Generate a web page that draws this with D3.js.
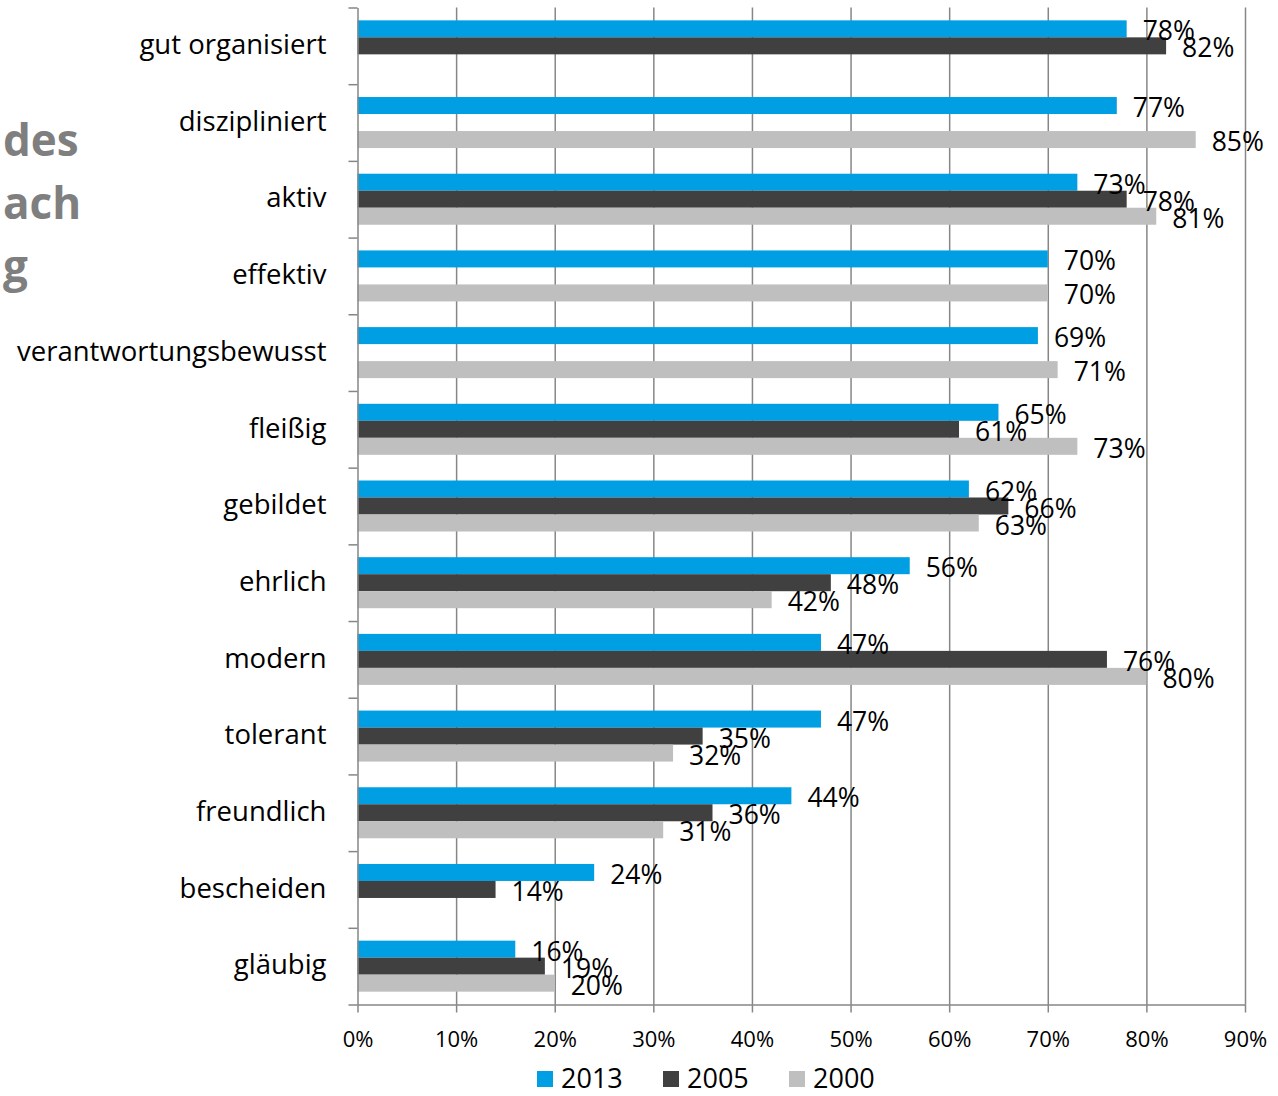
<!DOCTYPE html>
<html>
<head>
<meta charset="utf-8">
<script src="https://cdn.jsdelivr.net/npm/d3@7"></script>
<style>
  body { margin: 0; background: #fff; }
  svg { display: block; font-family: "Open Sans", Lato, sans-serif; }
</style>
</head>
<body>
<svg id="chart" width="1278" height="1096"></svg>
<script>
'use strict';

// categories top to bottom
const categories = ['gut organisiert', 'diszipliniert', 'aktiv', 'effektiv', 'verantwortungsbewusst',
    'fleißig', 'gebildet', 'ehrlich', 'modern', 'tolerant', 'freundlich', 'bescheiden', 'gläubig'];
const seriesNames = ['2013', '2005', '2000'];
const seriesColors = ['#009fe3', '#404040', '#bfbfbf'];

// values in percent, null = no bar
const values2013 = [78, 77, 73, 70, 69, 65, 62, 56, 47, 47, 44, 24, 16];
const values2005 = [82, null, 78, null, null, 61, 66, 48, 76, 35, 36, 14, 19];
const values2000 = [null, 85, 81, 70, 71, 73, 63, 42, 80, 32, 31, null, 20];

const xTicks = [0, 10, 20, 30, 40, 50, 60, 70, 80, 90];
const titleBits = ['des', 'ach', 'g'];

let svg = d3.select('#chart');
let margin = {top: 7.5, left: 357.5, right: 33, bottom: 91.5};
let width = 1278 - margin.left - margin.right;
let height = 1096 - margin.top - margin.bottom;

let seriesValues = [values2013, values2005, values2000];

let x = d3.scaleLinear().domain([0, 90]).range([0, width]);
let y = d3.scaleBand().domain(categories).range([0, height]).padding(0);
let ySub = d3.scaleBand().domain(seriesNames).range([0, y.bandwidth()])
    .paddingInner(0).paddingOuter(0.755);
let yEdges = d3.scaleLinear().domain([0, categories.length]).range([0, height]);

let g = svg.append('g').attr('transform', 'translate(' + margin.left + ',' + margin.top + ')');

// cut-off title on the left
svg.append('g').selectAll('text')
    .data(titleBits)
    .join('text')
    .attr('x', 3)
    .attr('y', (d, i) => 156 + i * 63)
    .attr('font-size', 44)
    .attr('font-weight', 'bold')
    .attr('fill', '#7f7f7f')
    .text(d => d);

// vertical grid lines
g.append('g')
    .attr('class', 'grid')
    .call(d3.axisBottom(x).tickValues(xTicks.slice(1)).tickSize(height).tickFormat(''))
    .call(s => s.select('.domain').remove())
    .call(s => s.selectAll('line').attr('stroke', '#868686').attr('stroke-width', 1.5));

// bars
seriesNames.forEach(function (name, si) {
    let rows = categories.map((c, i) => ({cat: c, v: seriesValues[si][i]})).filter(d => d.v !== null);

    g.append('g').selectAll('rect')
        .data(rows)
        .join('rect')
        .attr('x', 0)
        .attr('y', d => y(d.cat) + ySub(name))
        .attr('width', d => x(d.v))
        .attr('height', ySub.bandwidth())
        .attr('fill', seriesColors[si]);
});

// data labels
seriesNames.forEach(function (name, si) {
    let rows = categories.map((c, i) => ({cat: c, v: seriesValues[si][i]})).filter(d => d.v !== null);

    g.append('g').selectAll('text')
        .data(rows)
        .join('text')
        .attr('x', d => x(d.v) + 16)
        .attr('y', d => y(d.cat) + ySub(name) + ySub.bandwidth() / 2 + 2)
        .attr('dy', '.36em')
        .attr('font-size', 26.5)
        .attr('fill', '#000')
        .text(d => d.v + '%');
});

// x axis
g.append('g')
    .attr('transform', 'translate(0,' + height + ')')
    .call(d3.axisBottom(x).tickValues(xTicks).tickSize(8).tickSizeOuter(0).tickPadding(19)
        .tickFormat(d => d + '%'))
    .call(s => s.select('.domain').attr('stroke', '#868686').attr('stroke-width', 1.5))
    .call(s => s.selectAll('line').attr('stroke', '#868686').attr('stroke-width', 1.5))
    .call(s => s.selectAll('text').attr('font-size', 22).attr('fill', '#000')
        .attr('font-family', '"Open Sans", sans-serif'));

// y axis with ticks between categories
g.append('g')
    .call(d3.axisLeft(yEdges).tickValues(d3.range(categories.length + 1)).tickSize(9).tickSizeOuter(0)
        .tickFormat(''))
    .call(s => s.select('.domain').attr('stroke', '#868686').attr('stroke-width', 1.5))
    .call(s => s.selectAll('line').attr('stroke', '#868686').attr('stroke-width', 1.5));

// category labels
g.append('g').selectAll('text')
    .data(categories)
    .join('text')
    .attr('x', -31)
    .attr('y', d => y(d) + y.bandwidth() / 2)
    .attr('dy', '.3em')
    .attr('text-anchor', 'end')
    .attr('font-size', 27.5)
    .attr('fill', '#000')
    .text(d => d);

// legend
let legend = svg.append('g').attr('transform', 'translate(537,1071)');
let item = legend.selectAll('g')
    .data(seriesNames)
    .join('g')
    .attr('transform', (d, i) => 'translate(' + (i * 126) + ',0)');

item.append('rect')
    .attr('width', 16)
    .attr('height', 16)
    .attr('fill', (d, i) => seriesColors[i]);

item.append('text')
    .attr('x', 24)
    .attr('y', 17)
    .attr('font-size', 27)
    .attr('fill', '#000')
    .text(d => d);
</script>
</body>
</html>
